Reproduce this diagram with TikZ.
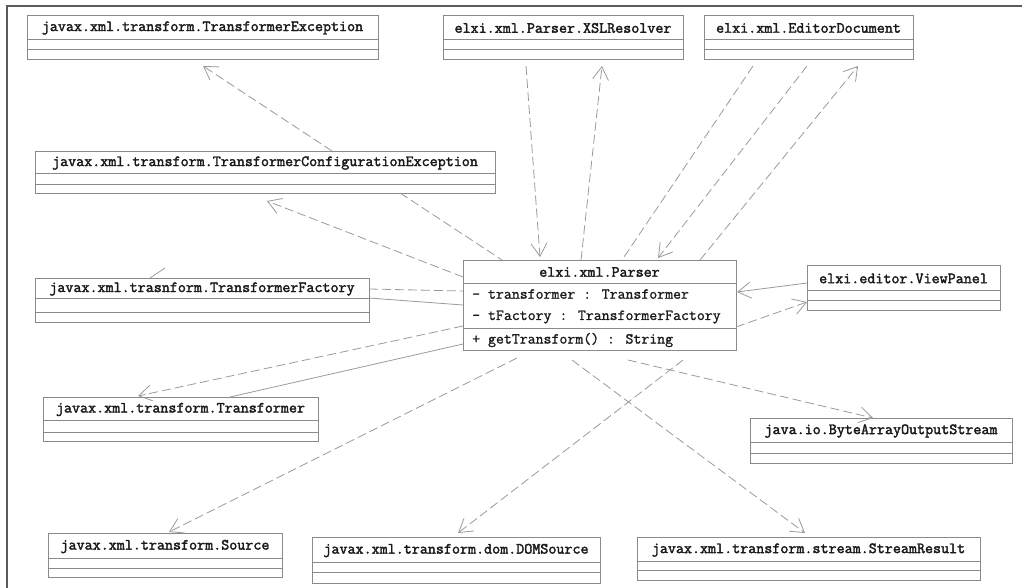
\documentclass[tikz,border=0pt]{standalone}
\usepackage{fontspec}
\newfontfamily\clsfont{Latin Modern Mono}[FakeBold=2.2]
\newfontfamily\attrfont{Latin Modern Mono}[FakeBold=1.2]
\usetikzlibrary{arrows.meta,calc}
\definecolor{boxgray}{HTML}{8A8A8A}
\definecolor{linegray}{HTML}{9A9A9A}
\definecolor{txt}{HTML}{1A1A1A}
\definecolor{framegray}{HTML}{5A5A5A}
\tikzset{
  clsbox/.style={draw=boxgray, line width=0.9pt, inner sep=0pt, outer sep=0pt},
  clstitle/.style={font=\fontsize{15.6}{18}\selectfont\clsfont, text=txt, inner sep=0pt},
  attr/.style={font=\fontsize{15.4}{18}\selectfont\attrfont, text=txt, anchor=west, inner sep=0pt},
  sepline/.style={draw=boxgray, line width=0.9pt},
  dep/.style={draw=linegray, line width=0.8pt, dash pattern=on 9pt off 4pt},
  assoc/.style={draw=linegray, line width=0.8pt},
  tip/.style={-{Straight Barb[length=13pt,width=16pt,line width=0.8pt]}},
  frameline/.style={draw=framegray, line width=1.4pt}
}
\newcommand{\umlcls}[8]{%
  \node[clsbox, anchor=north west, minimum width={(#4)-(#2)}, minimum height={(#5)-(#3)}] (#1) at (#2,#3) {};
  \node[clstitle] (#1-title) at ({((#2)+(#4))/2},{((#3)+(#6))/2+1}) {#8};
  \draw[sepline] (#2,#6) -- (#4,#6) (#2,#7) -- (#4,#7);
}
\begin{document}
\begin{tikzpicture}[x=1pt,y=-1pt]
\useasboundingbox (0,0) rectangle (1022,588);
\draw[frameline] (7,588) -- (7,6) -- (1022,6);

\umlcls{TE}{27}{15}{378}{59}{39}{49}{javax.xml.transform.TransformerException}
\umlcls{XSL}{443}{15}{683}{59}{39}{49}{elxi.xml.Parser.XSLResolver}
\umlcls{ED}{704}{15}{913}{59}{39}{49}{elxi.xml.EditorDocument}
\umlcls{TCE}{35}{151}{495}{193}{173}{184}{javax.xml.transform.TransformerConfigurationException}
\umlcls{TF}{35}{278}{369}{322}{298}{312}{javax.xml.trasnform.TransformerFactory}
\umlcls{VP}{807}{265}{1000}{310}{290}{300}{elxi.editor.ViewPanel}
\umlcls{TR}{43}{397}{318}{441}{420}{432}{javax.xml.transform.Transformer}
\umlcls{BAOS}{750}{418}{1012}{463}{442}{453}{java.io.ByteArrayOutputStream}
\umlcls{SRC}{48}{533}{282}{577}{558}{568}{javax.xml.transform.Source}
\umlcls{DOM}{312}{537}{600}{583}{562}{572}{javax.xml.transform.dom.DOMSource}
\umlcls{SR}{637}{537}{980}{580}{561}{570}{javax.xml.transform.stream.StreamResult}

% Parser class
\node[clsbox, anchor=north west, minimum width=273pt, minimum height=90pt] (P) at (463,260) {};
\node[clstitle] (P-title) at (599.5,272) {elxi.xml.Parser};
\draw[sepline] (463,283) -- (736,283) (463,328) -- (736,328);
\node[attr] (P-a1) at (472,294) {- transformer : Transformer};
\node[attr] (P-a2) at (472,317) {- tFactory : TransformerFactory};
\node[attr] (P-m1) at (472,340) {+ getTransform() : String};

% connectors
\draw[dep,tip] ([xshift=297pt]TCE.north west) -- ([xshift=176pt,yshift=-7pt]TE.south west);
\draw[dep,tip] ([yshift=-17pt]P.north west) -- ([xshift=232pt,yshift=-8pt]TCE.south west);
\draw[dep] ([xshift=365pt]TCE.south west) -- ([xshift=39pt]P.north west);

\draw[dep,tip] ([xshift=83pt,yshift=-7pt]XSL.south west) -- ([xshift=77pt,yshift=3pt]P.north west);
\draw[dep,tip] ([xshift=118pt]P.north west) -- ([xshift=159pt,yshift=-7pt]XSL.south west);

\draw[dep] ([xshift=49pt,yshift=-7pt]ED.south west) -- ([xshift=159pt]P.north west);
\draw[dep,tip] ([xshift=103pt,yshift=-7pt]ED.south west) -- ([xshift=195pt,yshift=2pt]P.north west);
\draw[dep,tip] ([xshift=237pt]P.north west) -- ([xshift=154pt,yshift=-7pt]ED.south west);

\draw[dep] ([yshift=-11pt]TF.north east) -- ([yshift=-31pt]P.north west);
\draw[assoc] ([yshift=-20pt]TF.north east) -- ([yshift=-45pt]P.north west);
\draw[assoc] ([xshift=115pt]TF.north west) -- ([xshift=130pt,yshift=10pt]TF.north west);

\draw[dep,tip] ([yshift=-66pt]P.north west) -- ([xshift=95pt,yshift=1pt]TR.north west);
\draw[assoc] ([yshift=-84pt]P.north west) -- ([xshift=187pt]TR.north west);

\draw[dep,tip] ([xshift=54pt,yshift=-8pt]P.south west) -- ([xshift=121pt,yshift=1pt]SRC.north west);
\draw[dep,tip] ([xshift=220pt,yshift=-10pt]P.south west) -- ([xshift=146pt,yshift=4pt]DOM.north west);
\draw[dep,tip] ([xshift=109pt,yshift=-10pt]P.south west) -- ([xshift=168pt,yshift=4pt]SR.north west);
\draw[dep,tip] ([xshift=165pt,yshift=-10pt]P.south west) -- ([xshift=123pt]BAOS.north west);

\draw[assoc,tip] ([yshift=-18pt]VP.north west) -- ([xshift=1pt,yshift=-32pt]P.north east);
\draw[dep,tip] ([yshift=-67pt]P.north east) -- ([yshift=-37pt]VP.north west);
\end{tikzpicture}
\end{document}
